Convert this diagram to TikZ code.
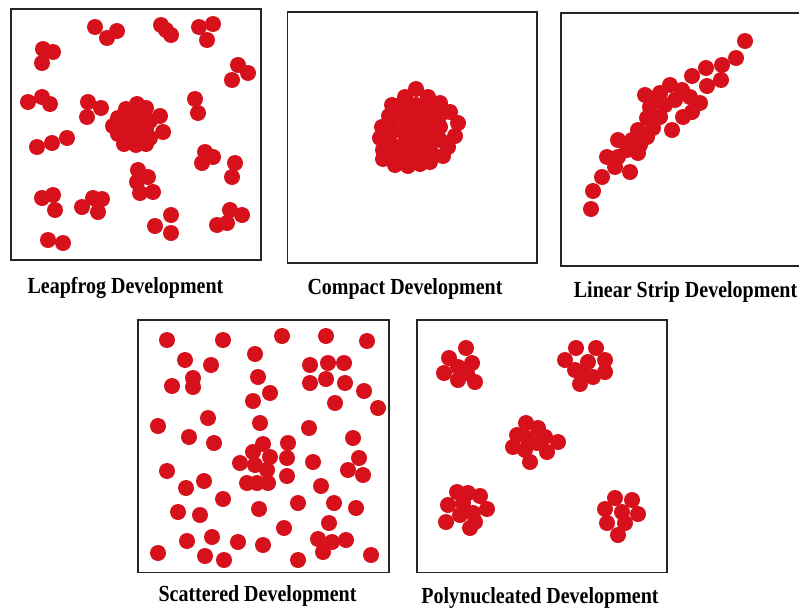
\documentclass[tikz,border=0pt]{standalone}
\usepackage{fontspec}
\setmainfont{Liberation Serif}
\begin{document}
\begin{tikzpicture}[x=1pt,y=-1pt,
  dotc/.style={fill={rgb,255:red,214;green,17;blue,28}},
  frame/.style={draw=black!85,line width=1.8pt},
  caption/.style={anchor=base,inner sep=0pt,font=\fontsize{20}{24}\selectfont\bfseries}]
\clip (0,0) rectangle (799,608);
\fill[white] (0,0) rectangle (799,608);

% panel frames
\draw[frame] (11,9) rectangle (261,260);
\draw[frame] (287.5,11.7) rectangle (537,263.3);
\draw[frame] (805,13.3) -- (561,13.3) -- (561,265.7) -- (805,265.7);
\draw[frame] (138.3,320) rectangle (389,572.5);
\draw[frame] (416.7,320) rectangle (667,572.5);

% leapfrog: small groups around a central cluster
\foreach \x/\y in {95/27,117/31,107/38, 161/25,166/30,171/35, 199/27,213/24,207/40,
  43/49,53/52,42/63, 238/65,248/73,232/80, 28/102,42/97,50/104,
  88/102,101/108,87/117, 195/99,198/113, 37/147,52/143,67/138,
  205/152,213/157,202/163, 235/163,232/177,
  138/170,148/177,137/182,153/192,140/193,
  42/198,53/195,55/210, 82/207,93/198,102/199,98/212,
  155/226,171/215,171/233, 217/225,230/210,242/215,227/223, 48/240,63/243,
  137/104,126/109,146/108,118/118,130/116,142/117,150/121,113/126,123/126,135/126,
  146/129,118/134,128/136,140/137,150/138,124/144,136/145,146/144,160/116,163/132}
  \fill[dotc] (\x,\y) circle[radius=8pt];

% compact: one dense cluster
\foreach \x/\y in {416/89,405/97,428/97,397/106,440/103,450/112,389/116,458/123,
  382/127,455/136,380/138,448/147,383/150,443/156,383/159,430/162,395/165,408/166,420/164,
  392/105,404/108,416/105,428/108,440/115,392/120,404/120,416/118,428/120,440/127,
  392/132,404/132,416/130,428/132,440/140,392/145,404/144,416/142,428/144,
  395/155,407/155,419/154,431/152}
  \fill[dotc] (\x,\y) circle[radius=8pt];

% linear strip: dots along a diagonal band
\foreach \x/\y in {745/41,736/58,722/65,721/80,706/68,707/86,692/76,
  670/85,645/95,660/93,682/90,690/97,700/103,650/107,665/105,683/117,692/112,
  647/118,660/117,672/130,638/130,653/128,618/140,632/140,647/137,
  638/153,627/150,607/157,618/157,615/167,630/172,602/177,593/191,591/209,
  675/100,655/98,640/145}
  \fill[dotc] (\x,\y) circle[radius=8pt];

% scattered: dots spread over the whole square
\foreach \x/\y in {167/340,223/340,282/336,326/336,367/341,
  185/360,211/365,255/354,310/365,328/363,344/363,
  172/386,193/378,193/387,258/377,270/393,253/401,310/383,326/379,345/383,364/391,335/403,378/408,
  158/426,208/418,189/437,214/443,260/423,309/428,353/438,
  263/444,253/452,270/457,240/463,255/465,267/470,247/483,257/483,268/483,288/443,287/458,287/476,
  313/462,359/458,348/470,363/475,
  167/471,186/488,204/481,321/486,
  223/499,259/509,298/503,334/503,356/508,
  178/512,200/515,284/528,329/523,
  187/541,212/537,238/542,263/545,318/539,332/542,346/540,323/552,
  158/553,205/556,224/560,298/560,371/555}
  \fill[dotc] (\x,\y) circle[radius=8pt];

% polynucleated: five separate clusters
\foreach \x/\y in {466/348,449/358,458/367,472/363,444/373,458/380,475/382,467/373,
  576/348,596/348,565/360,588/362,605/360,575/370,593/377,605/372,580/384,585/375,
  526/423,538/428,517/435,527/438,545/437,558/442,513/447,525/450,547/452,530/462,537/443,
  457/492,468/493,480/496,448/505,463/503,487/509,460/515,473/513,446/522,470/528,475/522,
  615/498,632/500,605/509,622/512,638/514,607/523,625/523,618/535}
  \fill[dotc] (\x,\y) circle[radius=8pt];

% captions
\node[caption] (capA) at (125.5,293) {\scalebox{1}[1.15]{Leapfrog Development}};
\node[caption] (capB) at (405,294) {\scalebox{1}[1.15]{Compact Development}};
\node[caption] (capC) at (685.5,297.5) {\scalebox{1}[1.15]{Linear Strip Development}};
\node[caption] (capD) at (257.5,601) {\scalebox{1}[1.15]{Scattered Development}};
\node[caption] (capE) at (540,603) {\scalebox{1}[1.15]{Polynucleated Development}};
\end{tikzpicture}
\end{document}
